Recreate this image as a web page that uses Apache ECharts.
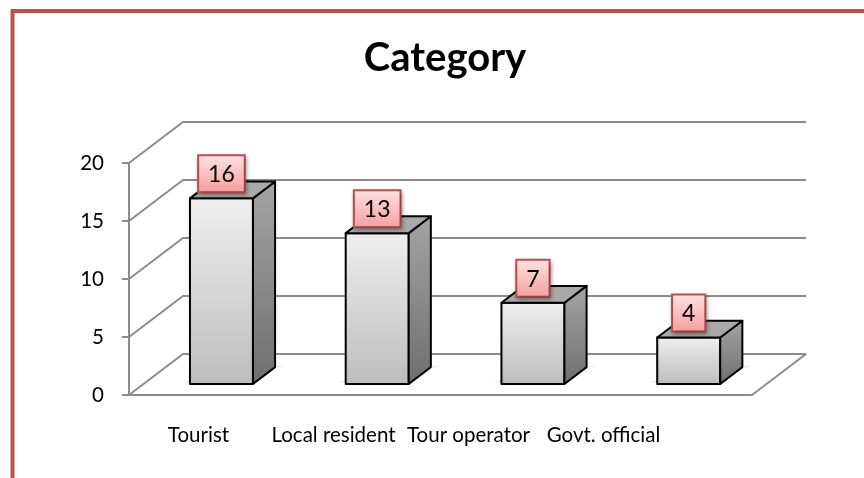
<!DOCTYPE html>
<html>
<head>
<meta charset="utf-8">
<script src="https://cdn.jsdelivr.net/npm/echarts@6/dist/echarts.min.js"></script>
<style>
html, body { margin: 0; background: #fff; }
#chart { width: 864px; height: 478px; }
</style>
</head>
<body>
<div id="chart"></div>
<script>
// 数据
const categories = ['Tourist', 'Local resident', 'Tour operator', 'Govt. official']
const counts = [16, 13, 7, 4]
const yTicks = [0, 5, 10, 15, 20]

// 伪3D 参数
const DEPTH = [54, -41]
const BAR_FRONT = 0.27
const BAR_BACK = 0.68
const BAR_W = 63
const LINE = '#8c8c8c'
const FONT = 'Lato'

const grad = (x2, y2, stops) => new echarts.graphic.LinearGradient(0, 0, x2, y2, stops)

// 后墙 + 侧墙网格线
const renderWall = (params, api) => {
    const v = api.value(1)
    const y = api.coord([0, v])[1]
    const cs = params.coordSys
    const left = cs.x
    const right = cs.x + cs.width
    const style = { stroke: LINE, lineWidth: 2, fill: null }
    const children = [{
        type: 'polyline',
        shape: { points: [[left, y], [left + DEPTH[0], y + DEPTH[1]], [right + DEPTH[0], y + DEPTH[1]]] },
        style
    }]
    if (v === 0) {
        children.push({
            type: 'line',
            shape: { x1: right, y1: y, x2: right + DEPTH[0], y2: y + DEPTH[1] },
            style
        })
    }
    return { type: 'group', children }
}

// 柱子
const renderBar = (params, api) => {
    const i = api.value(0)
    const v = api.value(1)
    const base = api.coord([i, 0])
    const top = api.coord([i, v])
    const fx = DEPTH[0] * BAR_FRONT
    const fy = DEPTH[1] * BAR_FRONT
    const dx = DEPTH[0] * (BAR_BACK - BAR_FRONT)
    const dy = DEPTH[1] * (BAR_BACK - BAR_FRONT)
    const l = base[0] + fx - BAR_W / 2
    const r = l + BAR_W
    const b = base[1] + fy
    const t = top[1] + fy
    const edge = { stroke: '#000', lineWidth: 2, lineJoin: 'round' }
    return {
        type: 'group',
        children: [
            {
                type: 'polygon',
                shape: { points: [[l - 6, b - 1], [r + dx + 8, b + dy], [r + dx + 8, b + dy - 2], [l - 6, b - 3]] },
                style: { fill: 'rgba(0,0,0,0.06)', shadowBlur: 12, shadowColor: 'rgba(0,0,0,0.45)' },
                z2: 0
            },
            {
                type: 'rect',
                shape: { x: l, y: t, width: BAR_W, height: b - t },
                style: Object.assign({ fill: grad(0, 1, [{ offset: 0, color: '#efefef' }, { offset: 1, color: '#bdbdbd' }]) }, edge),
                z2: 2
            },
            {
                type: 'polygon',
                shape: { points: [[r, t], [r + dx, t + dy], [r + dx, b + dy], [r, b]] },
                style: Object.assign({ fill: grad(0, 1, [{ offset: 0, color: '#a4a4a4' }, { offset: 1, color: '#6f6f6f' }]) }, edge),
                z2: 2
            },
            {
                type: 'polygon',
                shape: { points: [[l, t], [l + dx, t + dy], [r + dx, t + dy], [r, t]] },
                style: Object.assign({ fill: '#a9a9a9' }, edge),
                z2: 2
            },
            {
                type: 'text',
                x: (l + r) / 2,
                y: t - 7,
                style: {
                    text: String(v),
                    align: 'center',
                    verticalAlign: 'bottom',
                    font: '23px ' + FONT,
                    fill: '#000',
                    padding: [7, 9, 5, 9],
                    backgroundColor: grad(0, 1, [{ offset: 0, color: '#ffe3e3' }, { offset: 1, color: '#f59d9d' }]),
                    borderColor: '#c0504d',
                    borderWidth: 2,
                    shadowBlur: 4,
                    shadowColor: 'rgba(0,0,0,0.3)',
                    shadowOffsetX: 1,
                    shadowOffsetY: 2
                },
                z2: 5
            }
        ]
    }
}

const chart = echarts.init(document.getElementById('chart'))
chart.setOption({
    animation: false,
    backgroundColor: '#fff',
    title: {
        text: 'Category',
        left: 440,
        textAlign: 'center',
        top: 33,
        textStyle: { fontFamily: FONT, fontWeight: 'bold', fontSize: 40, color: '#000' }
    },
    graphic: [{
        type: 'rect',
        shape: { x: 12.5, y: 11, width: 900, height: 500 },
        style: { fill: null, stroke: '#c0504d', lineWidth: 4 }
    }],
    grid: [
        { left: 129, right: 112, top: 163, bottom: 83 },
        { left: 131, right: 193, top: 163, bottom: 83 }
    ],
    xAxis: [
        {
            type: 'category',
            data: categories,
            gridIndex: 0,
            axisLine: { lineStyle: { color: LINE, width: 2 } },
            axisTick: { show: false },
            axisLabel: { show: false }
        },
        {
            type: 'category',
            data: categories,
            gridIndex: 1,
            axisLine: { show: false },
            axisTick: { show: false },
            axisLabel: {
                margin: 40,
                verticalAlign: 'middle',
                fontFamily: FONT,
                fontSize: 20.5,
                color: '#000',
                interval: 0
            }
        }
    ],
    yAxis: [
        {
            type: 'value',
            gridIndex: 0,
            min: 0,
            max: 20,
            interval: 5,
            axisLine: { show: true, lineStyle: { color: LINE, width: 2 } },
            axisTick: { show: true, length: 7, lineStyle: { color: LINE, width: 2 } },
            axisLabel: { margin: 25, fontFamily: FONT, fontSize: 20.5, color: '#000' },
            splitLine: { show: false }
        },
        { type: 'value', gridIndex: 1, show: false }
    ],
    series: [
        {
            type: 'custom',
            xAxisIndex: 0,
            yAxisIndex: 0,
            renderItem: renderWall,
            data: yTicks.map(v => [0, v]),
            z: 1,
            silent: true
        },
        {
            type: 'custom',
            xAxisIndex: 0,
            yAxisIndex: 0,
            renderItem: renderBar,
            data: counts.map((v, i) => [i, v]),
            z: 3
        }
    ]
})
</script>
</body>
</html>
